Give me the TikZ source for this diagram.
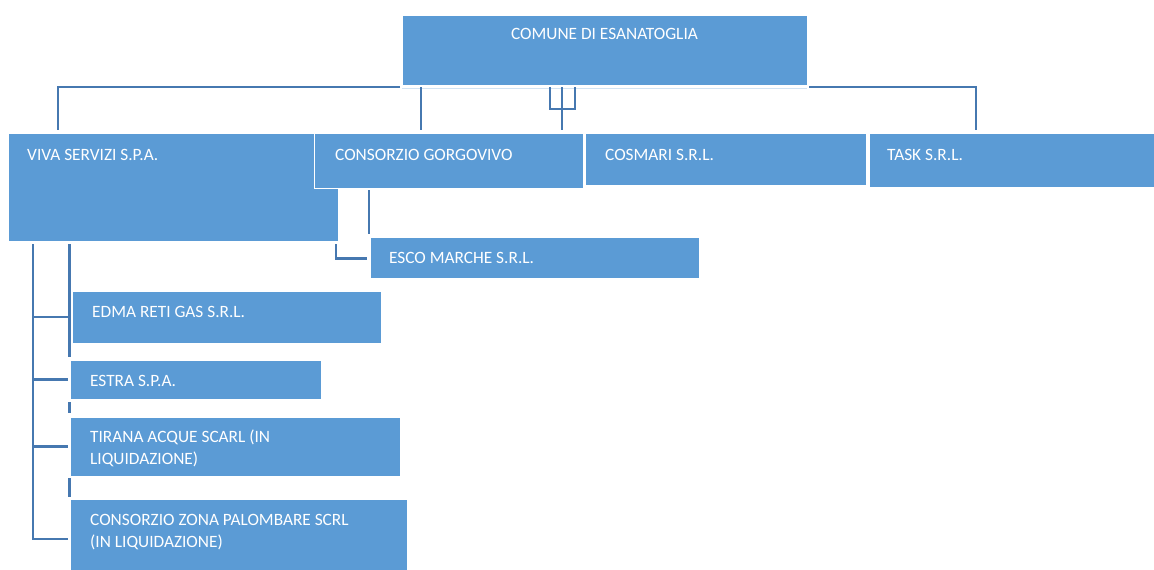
\documentclass[tikz,border=0pt]{standalone}
\usepackage{fontspec}
\setmainfont{Carlito}
\usetikzlibrary{calc}
\definecolor{boxblue}{HTML}{5B9BD5}
\definecolor{lineblue}{HTML}{4678B0}
\definecolor{edgelight}{HTML}{D2E3F3}
\begin{document}
\begin{tikzpicture}[x=1pt,y=-1pt,
  box/.style={fill=boxblue, draw=white, line width=0.8pt, anchor=north west, inner sep=0pt, outer sep=0pt, rectangle},
  lbl/.style={text=white, font=\fontsize{17.3}{22}\selectfont, anchor=base west, inner sep=0pt},
  conn/.style={draw=lineblue, line width=2.6pt}]
\useasboundingbox (0,0) rectangle (1154,570);
% boxes
\node[box, minimum width=405pt, minimum height=70pt] (comune) at (402,15) {};
\node[box, minimum width=330pt, minimum height=108pt] (viva) at (8,133) {};
\node[box, minimum width=269pt, minimum height=55pt] (gorgo) at (314,133) {};
\node[box, minimum width=281pt, minimum height=52pt] (cosmari) at (585,133) {};
\node[box, minimum width=286pt, minimum height=54pt] (task) at (869,133) {};
\node[box, minimum width=329pt, minimum height=41pt] (esco) at (370,237) {};
\node[box, minimum width=309pt, minimum height=52pt] (edma) at (72,291) {};
\node[box, minimum width=251pt, minimum height=39pt] (estra) at (70,360) {};
\node[box, minimum width=330pt, minimum height=59pt] (tirana) at (70,417) {};
\node[box, minimum width=337pt, minimum height=73pt] (zona) at (70,499) {};
% labels
\node[lbl, anchor=base] (tcomune) at ($(comune.north)+(0,24)$) {COMUNE DI ESANATOGLIA};
\node[lbl] (tviva) at ($(viva.north west)+(19,27)$) {VIVA SERVIZI S.P.A.};
\node[lbl] (tgorgo) at ($(gorgo.north west)+(21,27)$) {CONSORZIO GORGOVIVO};
\node[lbl] (tcosmari) at ($(cosmari.north west)+(20,27)$) {COSMARI S.R.L.};
\node[lbl] (ttask) at ($(task.north west)+(18,27)$) {TASK S.R.L.};
\node[lbl] (tesco) at ($(esco.north west)+(19,26)$) {ESCO MARCHE S.R.L.};
\node[lbl] (tedma) at ($(edma.north west)+(20,26)$) {EDMA RETI GAS S.R.L.};
\node[lbl] (testra) at ($(estra.north west)+(20,26)$) {ESTRA S.P.A.};
\node[lbl] (ttirana) at ($(tirana.north west)+(20,25)$) {\vtop{\hbox{TIRANA ACQUE SCARL (IN}\hbox{LIQUIDAZIONE)}}};
\node[lbl] (tzona) at ($(zona.north west)+(20,26)$) {\vtop{\hbox{CONSORZIO ZONA PALOMBARE SCRL}\hbox{(IN LIQUIDAZIONE)}}};
% connectors from the top box
\draw[edgelight, line width=1pt] ($(comune.south west)+(0,3.5)$) -- ($(comune.south east)+(0,3.5)$);
\draw[conn] ($(comune.south west)+(-2,2)$) -| ($(viva.north west)+(50,-3)$);
\draw[conn] ($(comune.south west)+(19,2)$) -- ($(gorgo.north west)+(107,-3)$);
\draw[conn] ($(comune.south west)+(148,2)$) |- ($(comune.south west)+(173,24)$) -- ($(comune.south west)+(173,2)$);
\draw[conn] ($(comune.south west)+(160,2)$) -- ($(gorgo.north west)+(248,-3)$);
\draw[conn] ($(comune.south east)+(2,2)$) -| ($(task.north west)+(107,-3)$);
% CONSORZIO GORGOVIVO to ESCO MARCHE
\draw[conn] ($(gorgo.south west)+(55,2)$) -- ($(esco.north west)+(-1,-3)$);
\draw[conn] ($(viva.south east)+(-2,3)$) |- ($(esco.west)+(-3,1)$);
% VIVA SERVIZI to its companies
\coordinate (vtop) at ($(viva.south west)+(25,3)$);
\draw[conn] (vtop) |- ($(zona.west)+(-2,3.5)$);
\draw[conn] ($(edma.west)+(-39,0)$) -- ($(edma.west)+(-4,0)$);
\draw[conn] ($(estra.west)+(-37,0)$) -- ($(estra.west)+(-2,0)$);
\draw[conn] ($(tirana.west)+(-37,0)$) -- ($(tirana.west)+(-2,0)$);
\draw[conn] ($(viva.south west)+(61.5,3)$) -- ($(estra.north west)+(-0.5,-3)$);
\draw[conn] ($(estra.south west)+(-0.5,3)$) -- ($(tirana.north west)+(-0.5,-4)$);
\draw[conn] ($(tirana.south west)+(-0.5,2)$) -- ($(zona.north west)+(-0.5,-2)$);
\end{tikzpicture}
\end{document}
